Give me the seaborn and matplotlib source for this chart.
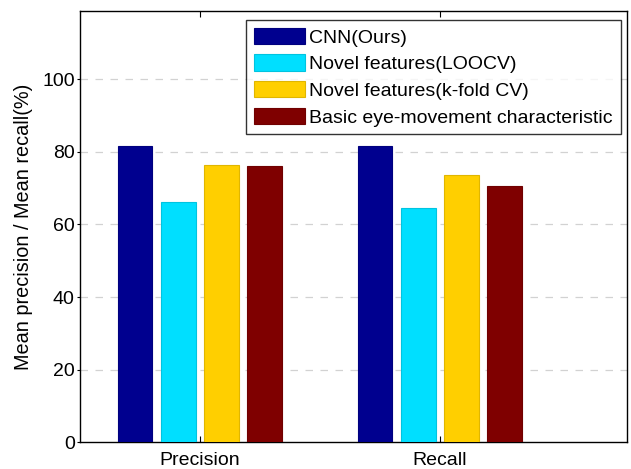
import pandas as pd
import matplotlib
matplotlib.use('Agg')
import matplotlib.pyplot as plt
import matplotlib.colors as mcolors
import seaborn as sns

# values
metrics = ['Precision', 'Recall']
methods = ['CNN(Ours)', 'Novel features(LOOCV)', 'Novel features(k-fold CV)',
           'Basic eye-movement characteristic']
precision = [81.5, 66.3, 76.4, 76.2]
recall = [81.7, 64.5, 73.7, 70.7]
colors = ['#00008F', '#00DFFF', '#FFCF00', '#7F0000']
yticks = [0, 20, 40, 60, 80, 100]

rows = []
for m, p, r in zip(methods, precision, recall):
    rows.append({'metric': 'Precision', 'method': m, 'value': p})
    rows.append({'metric': 'Recall', 'method': m, 'value': r})
dados = pd.DataFrame(rows)

sns.set_theme(style='white')
plt.rcParams['font.family'] = ['Liberation Sans', 'DejaVu Sans']

fig = plt.figure(figsize=(6.31, 4.69), dpi=100)
ax = fig.add_axes([80/631, 1 - 442.3/469, 547/631, 431/469])

sns.barplot(dados, x='metric', y='value', hue='method', order=metrics,
            hue_order=methods, palette=colors, width=0.72, gap=0.2,
            saturation=1, ax=ax, zorder=3)

# slightly darker bar edges like the original
for rect in ax.patches:
    fc = mcolors.to_rgb(rect.get_facecolor())
    rect.set_edgecolor(tuple(c * 0.88 for c in fc))
    rect.set_linewidth(0.8)

ax.set_xlim(-0.5, 1.78)
ax.set_ylim(0, 118.7)
ax.set_yticks(yticks)
ax.set_xlabel('')
ax.set_ylabel('Mean precision / Mean recall(%)', fontsize=14.3, labelpad=7)
ax.tick_params(axis='x', direction='in', length=4, top=True, bottom=True,
               labelsize=14, pad=7, width=0.8, colors='black')
ax.tick_params(axis='y', direction='out', length=2.2, left=True,
               labelsize=14, pad=1.5, width=0.8, colors='black')
ax.yaxis.label.set_color('black')

for y in yticks[1:]:
    ax.axhline(y, color='#d2d2d2', linestyle=(0, (6, 6)), linewidth=0.9, zorder=1)

for s in ax.spines.values():
    s.set_color('black')
    s.set_linewidth(1.0)

handles, labels = ax.get_legend_handles_labels()
leg = ax.legend(handles, labels, loc='upper right', bbox_to_anchor=(0.9885, 0.98),
                borderaxespad=0, fontsize=14, frameon=True, fancybox=False,
                edgecolor='black', handlelength=2.6, handleheight=0.92,
                handletextpad=0.25, labelspacing=0.4, borderpad=0.4)
leg.get_frame().set_linewidth(1.0)
leg.set_zorder(5)
for t in leg.get_texts():
    t.set_color('black')

fig.savefig('out.png', dpi=100)
